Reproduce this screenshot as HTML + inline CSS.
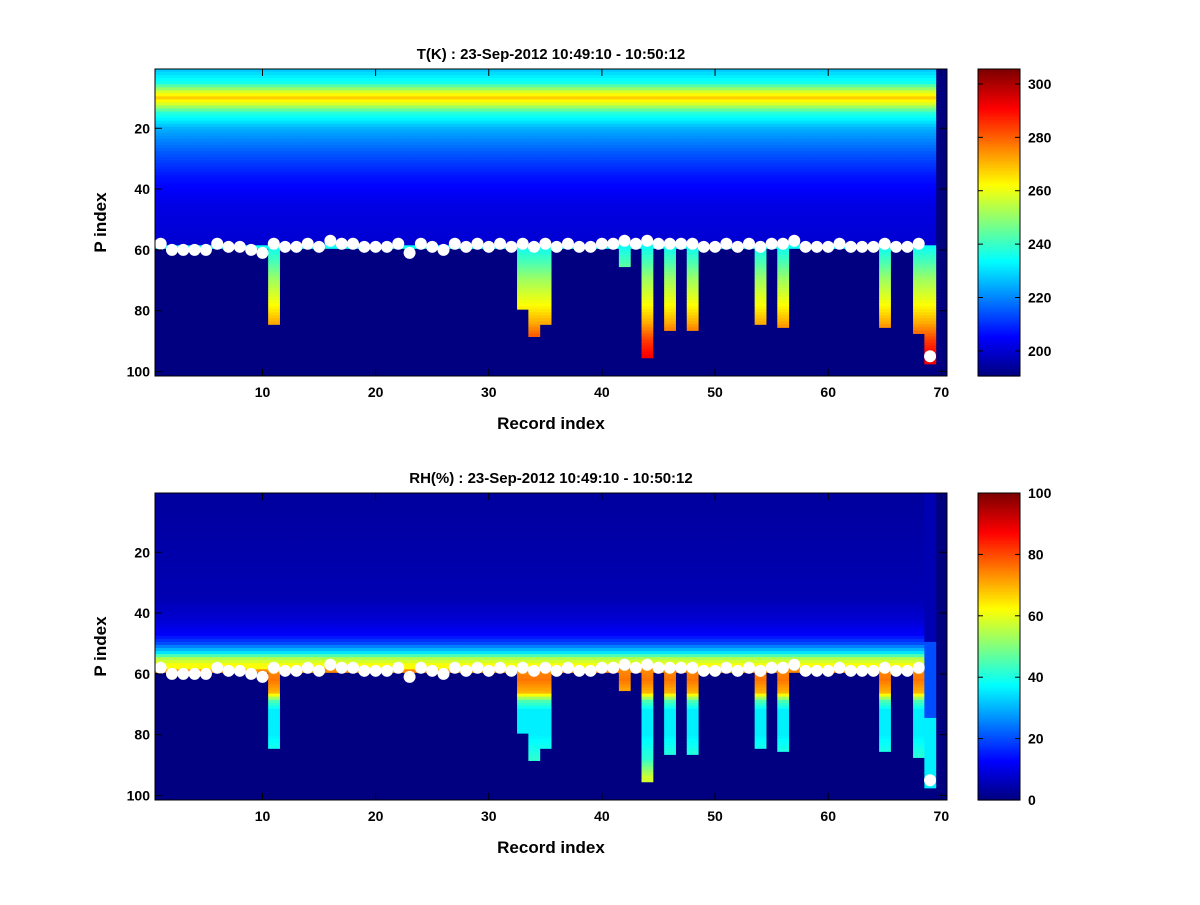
<!DOCTYPE html>
<html><head><meta charset="utf-8"><style>
body{margin:0;background:#fff;}
svg text{font-family:"Liberation Sans",sans-serif;font-weight:bold;}
</style></head><body>
<svg id="fig" width="1200" height="900" xmlns="http://www.w3.org/2000/svg">
<rect width="1200" height="900" fill="#fff"/>
<g id="p1"></g>
<g id="p2"></g>
</svg>
<script>
// ---- data ----
const records = Array.from({length:70},(_,i)=>i+1);
const surfaceP = [58,60,60,60,60,58,59,59,60,61,58,59,59,58,59,57,58,58,59,59,59,58,61,58,59,60,58,59,58,59,58,59,58,59,58,59,58,59,59,58,58,57,58,57,58,58,58,58,59,59,58,59,58,59,58,58,57,59,59,59,58,59,59,59,58,59,59,58,95,0];
const bottomP = [59,59,59,59,59,59,59,59,59,59,84,59,59,59,59,59,59,59,59,59,59,59,59,59,59,59,59,59,59,59,59,59,79,88,84,59,59,59,59,59,59,65,59,95,59,86,59,86,59,59,59,59,59,84,59,85,59,59,59,59,59,59,59,59,85,59,59,87,97,0];
// temperature profile by P level
const tLevels = [1,5,8,10,12,15,20,28,36,45,57];
const tValues = [228,236,258,268,258,238,225,215,207,202,200];
const tBelowLevels=[59,64,70,78,84,90,95];
const tBelowValues=[235,242,252,262,272,285,292];
// RH profile
const rhLevels=[1,35,42,47,50,53,55,57];
const rhValues=[3,5,8,12,20,35,55,62];
const rhBelowLevels=[59,62,66,69,72,80,88,94];
const rhBelowValues=[74,76,70,45,36,36,42,58];
const tTicks=[200,220,240,260,280,300];
const rhTicks=[0,20,40,60,80,100];
const xTicks=[10,20,30,40,50,60,70];
const yTicks=[20,40,60,80,100];

function lookup(levels,vals,p){
 if(p<=levels[0])return vals[0];
 for(let i=0;i<levels.length-1;i++){
  if(p>=levels[i]&&p<=levels[i+1]){const f=(p-levels[i])/(levels[i+1]-levels[i]);return vals[i]+f*(vals[i+1]-vals[i]);}
 }
 return vals[vals.length-1];}
function jet(t){t=Math.max(0,Math.min(1,t));
 const c=x=>Math.round(255*Math.max(0,Math.min(1,x)));
 return `rgb(${c(1.5-Math.abs(4*t-3))},${c(1.5-Math.abs(4*t-2))},${c(1.5-Math.abs(4*t-1))})`;}
const NS='http://www.w3.org/2000/svg';
function mk(tag,attrs,parent){const e=document.createElementNS(NS,tag);for(const k in attrs)e.setAttribute(k,attrs[k]);parent.appendChild(e);return e;}

function panel(g,top,title,vmin,vmax,profL,profV,belL,belV,ticks,isRH){
 const L=155,R=947,B=top+307;
 const xs=r=>L+(r-0.5)*(R-L)/70;
 const ys=p=>top+(p-0.5)*(B-top)/101;
 const cw=(R-L)/70,ch=(B-top)/101;
 mk('rect',{x:L,y:top,width:R-L,height:B-top,fill:jet(0)},g);
 records.forEach((r,i)=>{
  if(bottomP[i]===0)return;
  for(let p=1;p<=bottomP[i];p++){
   let v;
   if(p<=surfaceP[i]&&p<=58) v=lookup(profL,profV,p);
   else v=lookup(belL,belV,p);
   if(isRH&&r===69) v= p<50?5:(p<75?20:36);
   const c=mk('rect',{x:xs(r-0.5),y:ys(p-0.5),width:cw+0.5,height:ch+0.5,fill:jet((v-vmin)/(vmax-vmin))},g);
   
   
  }
 });
 records.forEach((r,i)=>{
  if(surfaceP[i]===0)return;
  const d=mk('circle',{cx:xs(r),cy:ys(surfaceP[i]),r:6,fill:'#fff'},g);
  
  
 });
 mk('rect',{x:L,y:top,width:R-L,height:B-top,fill:'none',stroke:'#000','stroke-width':1},g);
 xTicks.forEach(t=>{const x=xs(t);
  mk('line',{x1:x,x2:x,y1:B,y2:B-7,stroke:'#000'},g);mk('line',{x1:x,x2:x,y1:top,y2:top+7,stroke:'#000'},g);
  const tx=mk('text',{x:x,y:B+21,'text-anchor':'middle','font-size':14},g);tx.textContent=t;
  });
 yTicks.forEach(t=>{const y=ys(t);
  mk('line',{x1:L,x2:L+7,y1:y,y2:y,stroke:'#000'},g);mk('line',{x1:R,x2:R-7,y1:y,y2:y,stroke:'#000'},g);
  const tx=mk('text',{x:L-5,y:y+5,'text-anchor':'end','font-size':14},g);tx.textContent=t;
  });
 const tt=mk('text',{x:(L+R)/2,y:top-10,'text-anchor':'middle','font-size':15},g);tt.textContent=title;
 
 const xl=mk('text',{x:(L+R)/2,y:B+53,'text-anchor':'middle','font-size':17},g);xl.textContent='Record index';
 
 const yl=mk('text',{x:0,y:0,'text-anchor':'middle','font-size':17,transform:`translate(106,${(top+B)/2}) rotate(-90)`},g);yl.textContent='P index';
 
 // colorbar
 const CL=978,CR=1020;
 const cb=mk('g',{},g);
 const n=128;
 for(let k=0;k<n;k++){mk('rect',{x:CL,y:B-(k+1)*(B-top)/n,width:CR-CL,height:(B-top)/n+0.6,fill:jet(k/(n-1))},cb);}
 mk('rect',{x:CL,y:top,width:CR-CL,height:B-top,fill:'none',stroke:'#000'},cb);
 const cmin=isRH?0:190.6,cmax=isRH?100:305.6;
 const cy=v=>B-(v-cmin)/(cmax-cmin)*(B-top);
 ticks.forEach(t=>{const y=cy(t);
  mk('line',{x1:CL,x2:CL+5,y1:y,y2:y,stroke:'#000'},cb);mk('line',{x1:CR,x2:CR-5,y1:y,y2:y,stroke:'#000'},cb);
  const tx=mk('text',{x:CR+8,y:y+5,'font-size':14},cb);tx.textContent=t;
  });
}
panel(document.getElementById('p1'),69,'T(K) : 23-Sep-2012 10:49:10 - 10:50:12',190.6,305.6,tLevels,tValues,tBelowLevels,tBelowValues,tTicks,false);
panel(document.getElementById('p2'),493,'RH(%) : 23-Sep-2012 10:49:10 - 10:50:12',0,100,rhLevels,rhValues,rhBelowLevels,rhBelowValues,rhTicks,true);
</script>
</body></html>
